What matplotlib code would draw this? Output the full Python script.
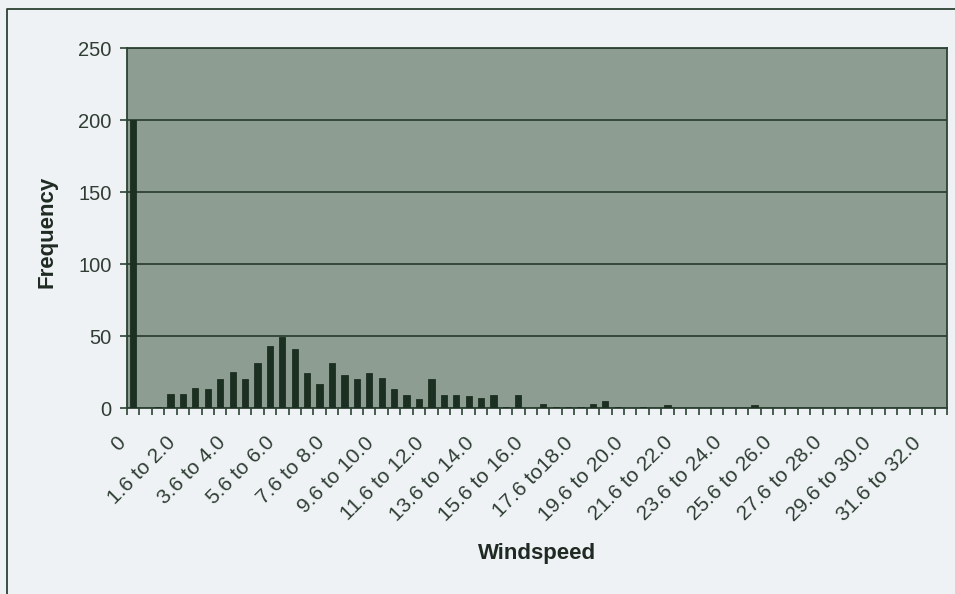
import matplotlib
matplotlib.use("Agg")
import matplotlib.pyplot as plt
from matplotlib.lines import Line2D
from matplotlib.transforms import ScaledTranslation

categories = ["0",
    "0.1 to 0.5", "0.6 to 1.0", "1.1 to 1.5", "1.6 to 2.0", "2.1 to 2.5", "2.6 to 3.0", "3.1 to 3.5", "3.6 to 4.0",
    "4.1 to 4.5", "4.6 to 5.0", "5.1 to 5.5", "5.6 to 6.0", "6.1 to 6.5", "6.6 to 7.0", "7.1 to 7.5", "7.6 to 8.0",
    "8.1 to 8.5", "8.6 to 9.0", "9.1 to 9.5", "9.6 to 10.0", "10.1 to 10.5", "10.6 to 11.0", "11.1 to 11.5", "11.6 to 12.0",
    "12.1 to 12.5", "12.6 to 13.0", "13.1 to 13.5", "13.6 to 14.0", "14.1 to 14.5", "14.6 to 15.0", "15.1 to 15.5", "15.6 to 16.0",
    "16.1 to 16.5", "16.6 to 17.0", "17.1 to 17.5", "17.6 to18.0", "18.1 to 18.5", "18.6 to 19.0", "19.1 to 19.5", "19.6 to 20.0",
    "20.1 to 20.5", "20.6 to 21.0", "21.1 to 21.5", "21.6 to 22.0", "22.1 to 22.5", "22.6 to 23.0", "23.1 to 23.5", "23.6 to 24.0",
    "24.1 to 24.5", "24.6 to 25.0", "25.1 to 25.5", "25.6 to 26.0", "26.1 to 26.5", "26.6 to 27.0", "27.1 to 27.5", "27.6 to 28.0",
    "28.1 to 28.5", "28.6 to 29.0", "29.1 to 29.5", "29.6 to 30.0", "30.1 to 30.5", "30.6 to 31.0", "31.1 to 31.5", "31.6 to 32.0",
    "32.1 to 32.5"]

frequency = [200,
    0, 1, 10, 10, 14, 13, 20, 25,
    20, 31, 43, 49, 41, 24, 17, 31,
    23, 20, 24, 21, 13, 9, 6, 20,
    9, 9, 8, 7, 9, 1, 9, 0,
    3, 1, 1, 1, 3, 5, 1, 0,
    1, 0, 2, 0, 0, 0, 0, 0,
    0, 2, 0, 0, 0, 0, 0, 0,
    0, 0, 0, 0, 0, 0, 0, 0,
    0]

y_ticks = [0, 50, 100, 150, 200, 250]
label_step = 4

FIG_BG = "#eef2f5"
PLOT_BG = "#8e9d92"
BAR = "#1c3022"
GRID = "#2c4233"
TEXT = "#2f3d33"
TITLE = "#1e2a22"
FONT = "Liberation Sans"

fig = plt.figure(figsize=(9.55, 5.94), dpi=100, facecolor=FIG_BG)
W, H = 955, 594
left, right, top, bottom = 127, 947, 48, 408
ax = fig.add_axes([left / W, 1 - bottom / H, (right - left) / W, (bottom - top) / H])
ax.set_facecolor(PLOT_BG)

n = len(categories)
x = list(range(n))
ax.bar(x, frequency, width=0.5, color=BAR, edgecolor=BAR, linewidth=0.6, zorder=3)

ax.set_xlim(-0.5, n - 0.5)
ax.set_ylim(0, 250)
ax.set_yticks(y_ticks)
ax.grid(axis="y", color=GRID, linewidth=1.3, zorder=1)
ax.set_axisbelow(True)

# category boundary ticks
ax.set_xticks([i - 0.5 for i in range(n + 1)])
ax.set_xticklabels([])
ax.tick_params(axis="x", length=5, width=1.2, color=GRID, direction="out")
ax.tick_params(axis="y", length=5, width=1.2, color=GRID, direction="out", pad=6)
for lab in ax.get_yticklabels():
    lab.set_fontsize(14.5)
    lab.set_color(TEXT)
    lab.set_family(FONT)

# rotated category labels (every 4th category), placed on the x data scale
lab_trans = ax.get_xaxis_transform() + ScaledTranslation(-17 / 100, -25 / 100, fig.dpi_scale_trans)
for i in range(0, n, label_step):
    ax.text(i, 0, categories[i], transform=lab_trans, rotation=45, rotation_mode="anchor",
            ha="right", va="top", fontsize=15, color=TEXT, family=FONT, clip_on=False)

for s in ax.spines.values():
    s.set_color(GRID)
    s.set_linewidth(1.3)

fig.text(537 / W, 1 - 553 / H, "Windspeed", fontsize=16, fontweight="bold", color=TITLE,
         family=FONT, ha="center", va="center")
fig.text(47 / W, 1 - 232 / H, "Frequency", fontsize=16, fontweight="bold", color=TITLE,
         family=FONT, ha="center", va="center", rotation=90)

# chart border (top and left visible in the reference)
fig.lines.append(Line2D([7 / W, 7 / W, 1.0], [0.0, 1 - 9 / H, 1 - 9 / H], transform=fig.transFigure,
                        color=GRID, linewidth=1.3))

fig.savefig("out.png", dpi=100, facecolor=FIG_BG)
